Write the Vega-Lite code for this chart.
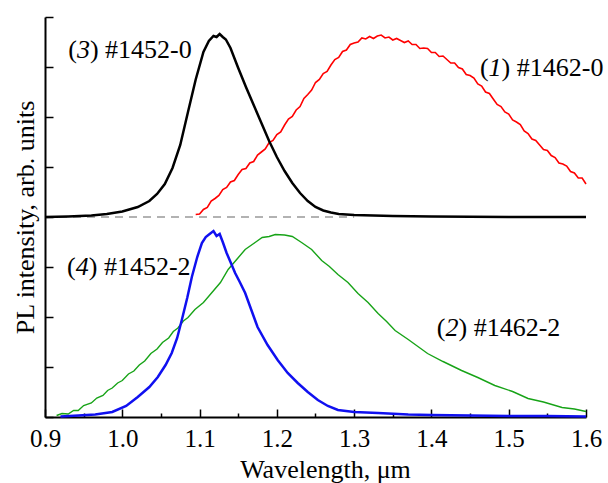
{
  "$schema": "https://vega.github.io/schema/vega-lite/v6.json",
  "width": 541,
  "height": 400,
  "autosize": {"type": "none"},
  "padding": {"left": 45, "top": 17, "right": 22, "bottom": 66},
  "config": {"font": "Liberation Serif", "view": {"stroke": null}},
  "datasets": {
    "base": [{"x": 0.9, "y": 4}, {"x": 1.3, "y": 4}],
    "labels": [
      {"x": 0.93, "y": 7.34, "n": "3", "r": ") #1452-0"},
      {"x": 1.4627, "y": 6.98, "n": "1", "r": ") #1462-0"},
      {"x": 0.9285, "y": 3.0, "n": "4", "r": ") #1452-2"},
      {"x": 1.407, "y": 1.78, "n": "2", "r": ") #1462-2"}
    ],
    "curves": [
      {"s": "3", "x": 0.9, "y": 4.0}, {"s": "3", "x": 0.93, "y": 4.01}, {"s": "3", "x": 0.96, "y": 4.03}, {"s": "3", "x": 0.98, "y": 4.06},
      {"s": "3", "x": 1.0, "y": 4.11}, {"s": "3", "x": 1.02, "y": 4.2}, {"s": "3", "x": 1.035, "y": 4.32}, {"s": "3", "x": 1.045, "y": 4.46},
      {"s": "3", "x": 1.055, "y": 4.66}, {"s": "3", "x": 1.065, "y": 4.98}, {"s": "3", "x": 1.075, "y": 5.44}, {"s": "3", "x": 1.085, "y": 6.1},
      {"s": "3", "x": 1.095, "y": 6.75}, {"s": "3", "x": 1.105, "y": 7.3}, {"s": "3", "x": 1.112, "y": 7.52}, {"s": "3", "x": 1.118, "y": 7.62},
      {"s": "3", "x": 1.122, "y": 7.6}, {"s": "3", "x": 1.126, "y": 7.66}, {"s": "3", "x": 1.13, "y": 7.6}, {"s": "3", "x": 1.134, "y": 7.55},
      {"s": "3", "x": 1.14, "y": 7.38}, {"s": "3", "x": 1.15, "y": 6.98}, {"s": "3", "x": 1.16, "y": 6.6}, {"s": "3", "x": 1.17, "y": 6.24},
      {"s": "3", "x": 1.18, "y": 5.88}, {"s": "3", "x": 1.19, "y": 5.52}, {"s": "3", "x": 1.2, "y": 5.2}, {"s": "3", "x": 1.21, "y": 4.92},
      {"s": "3", "x": 1.22, "y": 4.68}, {"s": "3", "x": 1.23, "y": 4.48}, {"s": "3", "x": 1.24, "y": 4.32}, {"s": "3", "x": 1.25, "y": 4.2},
      {"s": "3", "x": 1.26, "y": 4.13}, {"s": "3", "x": 1.27, "y": 4.09}, {"s": "3", "x": 1.28, "y": 4.06}, {"s": "3", "x": 1.3, "y": 4.04},
      {"s": "3", "x": 1.35, "y": 4.02}, {"s": "3", "x": 1.4, "y": 4.01}, {"s": "3", "x": 1.5, "y": 4.0}, {"s": "3", "x": 1.6, "y": 4.0},

      {"s": "1", "x": 1.095, "y": 4.05}, {"s": "1", "x": 1.1, "y": 4.06}, {"s": "1", "x": 1.105, "y": 4.15}, {"s": "1", "x": 1.11, "y": 4.19},
      {"s": "1", "x": 1.115, "y": 4.32}, {"s": "1", "x": 1.12, "y": 4.37}, {"s": "1", "x": 1.125, "y": 4.43}, {"s": "1", "x": 1.13, "y": 4.55},
      {"s": "1", "x": 1.135, "y": 4.59}, {"s": "1", "x": 1.14, "y": 4.7}, {"s": "1", "x": 1.145, "y": 4.73}, {"s": "1", "x": 1.15, "y": 4.85},
      {"s": "1", "x": 1.155, "y": 4.95}, {"s": "1", "x": 1.16, "y": 4.97}, {"s": "1", "x": 1.165, "y": 5.08}, {"s": "1", "x": 1.17, "y": 5.11},
      {"s": "1", "x": 1.175, "y": 5.24}, {"s": "1", "x": 1.18, "y": 5.3}, {"s": "1", "x": 1.185, "y": 5.36}, {"s": "1", "x": 1.19, "y": 5.49},
      {"s": "1", "x": 1.195, "y": 5.53}, {"s": "1", "x": 1.2, "y": 5.65}, {"s": "1", "x": 1.205, "y": 5.7}, {"s": "1", "x": 1.21, "y": 5.84},
      {"s": "1", "x": 1.215, "y": 5.96}, {"s": "1", "x": 1.22, "y": 6.01}, {"s": "1", "x": 1.225, "y": 6.14}, {"s": "1", "x": 1.23, "y": 6.21},
      {"s": "1", "x": 1.235, "y": 6.37}, {"s": "1", "x": 1.24, "y": 6.45}, {"s": "1", "x": 1.245, "y": 6.54}, {"s": "1", "x": 1.25, "y": 6.69},
      {"s": "1", "x": 1.255, "y": 6.75}, {"s": "1", "x": 1.26, "y": 6.87}, {"s": "1", "x": 1.265, "y": 6.91}, {"s": "1", "x": 1.27, "y": 7.04},
      {"s": "1", "x": 1.275, "y": 7.15}, {"s": "1", "x": 1.28, "y": 7.19}, {"s": "1", "x": 1.285, "y": 7.31}, {"s": "1", "x": 1.29, "y": 7.34},
      {"s": "1", "x": 1.295, "y": 7.45}, {"s": "1", "x": 1.3, "y": 7.48}, {"s": "1", "x": 1.305, "y": 7.5}, {"s": "1", "x": 1.31, "y": 7.58},
      {"s": "1", "x": 1.315, "y": 7.56}, {"s": "1", "x": 1.32, "y": 7.61}, {"s": "1", "x": 1.325, "y": 7.57}, {"s": "1", "x": 1.33, "y": 7.62},
      {"s": "1", "x": 1.335, "y": 7.64}, {"s": "1", "x": 1.34, "y": 7.58}, {"s": "1", "x": 1.345, "y": 7.6}, {"s": "1", "x": 1.35, "y": 7.54},
      {"s": "1", "x": 1.355, "y": 7.57}, {"s": "1", "x": 1.36, "y": 7.53}, {"s": "1", "x": 1.365, "y": 7.49}, {"s": "1", "x": 1.37, "y": 7.52},
      {"s": "1", "x": 1.375, "y": 7.45}, {"s": "1", "x": 1.38, "y": 7.45}, {"s": "1", "x": 1.385, "y": 7.37}, {"s": "1", "x": 1.39, "y": 7.38},
      {"s": "1", "x": 1.395, "y": 7.37}, {"s": "1", "x": 1.4, "y": 7.29}, {"s": "1", "x": 1.405, "y": 7.29}, {"s": "1", "x": 1.41, "y": 7.21},
      {"s": "1", "x": 1.415, "y": 7.22}, {"s": "1", "x": 1.42, "y": 7.15}, {"s": "1", "x": 1.425, "y": 7.08}, {"s": "1", "x": 1.43, "y": 7.08},
      {"s": "1", "x": 1.435, "y": 6.99}, {"s": "1", "x": 1.44, "y": 6.96}, {"s": "1", "x": 1.445, "y": 6.85}, {"s": "1", "x": 1.45, "y": 6.83},
      {"s": "1", "x": 1.455, "y": 6.78}, {"s": "1", "x": 1.46, "y": 6.66}, {"s": "1", "x": 1.465, "y": 6.62}, {"s": "1", "x": 1.47, "y": 6.5},
      {"s": "1", "x": 1.475, "y": 6.47}, {"s": "1", "x": 1.48, "y": 6.36}, {"s": "1", "x": 1.485, "y": 6.25}, {"s": "1", "x": 1.49, "y": 6.21},
      {"s": "1", "x": 1.495, "y": 6.1}, {"s": "1", "x": 1.5, "y": 6.06}, {"s": "1", "x": 1.505, "y": 5.94}, {"s": "1", "x": 1.51, "y": 5.9},
      {"s": "1", "x": 1.515, "y": 5.85}, {"s": "1", "x": 1.52, "y": 5.72}, {"s": "1", "x": 1.525, "y": 5.67}, {"s": "1", "x": 1.53, "y": 5.56},
      {"s": "1", "x": 1.535, "y": 5.53}, {"s": "1", "x": 1.54, "y": 5.44}, {"s": "1", "x": 1.545, "y": 5.35}, {"s": "1", "x": 1.55, "y": 5.33},
      {"s": "1", "x": 1.555, "y": 5.23}, {"s": "1", "x": 1.56, "y": 5.19}, {"s": "1", "x": 1.565, "y": 5.08}, {"s": "1", "x": 1.57, "y": 5.06},
      {"s": "1", "x": 1.575, "y": 5.02}, {"s": "1", "x": 1.58, "y": 4.91}, {"s": "1", "x": 1.585, "y": 4.88}, {"s": "1", "x": 1.59, "y": 4.78},
      {"s": "1", "x": 1.595, "y": 4.78}, {"s": "1", "x": 1.6, "y": 4.66},

      {"s": "2", "x": 0.915, "y": 0.03}, {"s": "2", "x": 0.922, "y": 0.07}, {"s": "2", "x": 0.93, "y": 0.06}, {"s": "2", "x": 0.937, "y": 0.13},
      {"s": "2", "x": 0.943, "y": 0.13}, {"s": "2", "x": 0.95, "y": 0.23}, {"s": "2", "x": 0.96, "y": 0.28}, {"s": "2", "x": 0.967, "y": 0.38},
      {"s": "2", "x": 0.975, "y": 0.43}, {"s": "2", "x": 0.981, "y": 0.53}, {"s": "2", "x": 0.987, "y": 0.58}, {"s": "2", "x": 0.994, "y": 0.68},
      {"s": "2", "x": 1.0, "y": 0.73}, {"s": "2", "x": 1.008, "y": 0.86}, {"s": "2", "x": 1.015, "y": 0.92}, {"s": "2", "x": 1.022, "y": 1.04},
      {"s": "2", "x": 1.029, "y": 1.12}, {"s": "2", "x": 1.037, "y": 1.27}, {"s": "2", "x": 1.045, "y": 1.36}, {"s": "2", "x": 1.052, "y": 1.49},
      {"s": "2", "x": 1.06, "y": 1.58}, {"s": "2", "x": 1.066, "y": 1.71}, {"s": "2", "x": 1.072, "y": 1.78}, {"s": "2", "x": 1.079, "y": 1.92},
      {"s": "2", "x": 1.085, "y": 1.99}, {"s": "2", "x": 1.094, "y": 2.15}, {"s": "2", "x": 1.105, "y": 2.29}, {"s": "2", "x": 1.116, "y": 2.49},
      {"s": "2", "x": 1.127, "y": 2.69}, {"s": "2", "x": 1.137, "y": 2.95}, {"s": "2", "x": 1.148, "y": 3.15}, {"s": "2", "x": 1.159, "y": 3.35},
      {"s": "2", "x": 1.17, "y": 3.47}, {"s": "2", "x": 1.181, "y": 3.59}, {"s": "2", "x": 1.19, "y": 3.61}, {"s": "2", "x": 1.198, "y": 3.65},
      {"s": "2", "x": 1.21, "y": 3.64}, {"s": "2", "x": 1.22, "y": 3.61}, {"s": "2", "x": 1.232, "y": 3.49}, {"s": "2", "x": 1.245, "y": 3.35},
      {"s": "2", "x": 1.258, "y": 3.13}, {"s": "2", "x": 1.268, "y": 3.01}, {"s": "2", "x": 1.279, "y": 2.85}, {"s": "2", "x": 1.292, "y": 2.69},
      {"s": "2", "x": 1.305, "y": 2.47}, {"s": "2", "x": 1.318, "y": 2.29}, {"s": "2", "x": 1.331, "y": 2.07}, {"s": "2", "x": 1.342, "y": 1.91},
      {"s": "2", "x": 1.353, "y": 1.73}, {"s": "2", "x": 1.37, "y": 1.55}, {"s": "2", "x": 1.395, "y": 1.27}, {"s": "2", "x": 1.415, "y": 1.11},
      {"s": "2", "x": 1.439, "y": 0.93}, {"s": "2", "x": 1.46, "y": 0.79}, {"s": "2", "x": 1.482, "y": 0.63}, {"s": "2", "x": 1.505, "y": 0.51},
      {"s": "2", "x": 1.525, "y": 0.37}, {"s": "2", "x": 1.545, "y": 0.3}, {"s": "2", "x": 1.569, "y": 0.19}, {"s": "2", "x": 1.585, "y": 0.16},
      {"s": "2", "x": 1.6, "y": 0.11},

      {"s": "4", "x": 0.92, "y": 0.01}, {"s": "4", "x": 0.943, "y": 0.03}, {"s": "4", "x": 0.965, "y": 0.05}, {"s": "4", "x": 0.987, "y": 0.1},
      {"s": "4", "x": 1.005, "y": 0.22}, {"s": "4", "x": 1.02, "y": 0.4}, {"s": "4", "x": 1.035, "y": 0.6}, {"s": "4", "x": 1.046, "y": 0.8},
      {"s": "4", "x": 1.056, "y": 1.04}, {"s": "4", "x": 1.064, "y": 1.28}, {"s": "4", "x": 1.071, "y": 1.58}, {"s": "4", "x": 1.077, "y": 1.94},
      {"s": "4", "x": 1.084, "y": 2.38}, {"s": "4", "x": 1.09, "y": 2.8}, {"s": "4", "x": 1.097, "y": 3.2}, {"s": "4", "x": 1.103, "y": 3.48},
      {"s": "4", "x": 1.108, "y": 3.6}, {"s": "4", "x": 1.113, "y": 3.66}, {"s": "4", "x": 1.118, "y": 3.72}, {"s": "4", "x": 1.122, "y": 3.62},
      {"s": "4", "x": 1.126, "y": 3.66}, {"s": "4", "x": 1.13, "y": 3.5}, {"s": "4", "x": 1.135, "y": 3.28}, {"s": "4", "x": 1.14, "y": 3.1},
      {"s": "4", "x": 1.146, "y": 2.88}, {"s": "4", "x": 1.152, "y": 2.7}, {"s": "4", "x": 1.159, "y": 2.48}, {"s": "4", "x": 1.167, "y": 2.14},
      {"s": "4", "x": 1.175, "y": 1.8}, {"s": "4", "x": 1.188, "y": 1.44}, {"s": "4", "x": 1.201, "y": 1.14}, {"s": "4", "x": 1.214, "y": 0.88},
      {"s": "4", "x": 1.227, "y": 0.68}, {"s": "4", "x": 1.24, "y": 0.5}, {"s": "4", "x": 1.253, "y": 0.34}, {"s": "4", "x": 1.266, "y": 0.22},
      {"s": "4", "x": 1.279, "y": 0.14}, {"s": "4", "x": 1.3, "y": 0.1}, {"s": "4", "x": 1.331, "y": 0.08}, {"s": "4", "x": 1.37, "y": 0.05},
      {"s": "4", "x": 1.4, "y": 0.04}, {"s": "4", "x": 1.45, "y": 0.03}, {"s": "4", "x": 1.5, "y": 0.02}, {"s": "4", "x": 1.55, "y": 0.02},
      {"s": "4", "x": 1.6, "y": 0.01}
    ]
  },
  "layer": [
    {
      "data": {"name": "base"},
      "mark": {"type": "line", "color": "#999999", "strokeDash": [8, 6], "strokeWidth": 1.5},
      "encoding": {
        "x": {
          "field": "x", "type": "quantitative",
          "scale": {"domain": [0.9, 1.6], "nice": false, "zero": false},
          "axis": {
            "orient": "bottom",
            "values": [0.9, 1.0, 1.1, 1.2, 1.3, 1.4, 1.5, 1.6],
            "format": ".1f",
            "tickSize": -8, "tickWidth": 1.5, "tickColor": "black",
            "domainColor": "black", "domainWidth": 2,
            "labelFontSize": 25, "labelColor": "black", "labelPadding": 17,
            "labelFlush": false, "labelOverlap": false, "labelBound": false,
            "grid": false,
            "title": "Wavelength, μm", "titleFontSize": 26, "titleFontWeight": "normal",
            "titleColor": "black", "titlePadding": 5, "titleX": 280
          }
        },
        "y": {
          "field": "y", "type": "quantitative",
          "scale": {"domain": [0, 8], "nice": false, "zero": false},
          "axis": {
            "values": [0, 1, 2, 3, 4, 5, 6, 7, 8],
            "labels": false,
            "tickSize": -8, "tickWidth": 1.5, "tickColor": "black",
            "domainColor": "black", "domainWidth": 2,
            "grid": false,
            "title": "PL intensity, arb. units", "titleFontSize": 26, "titleFontWeight": "normal",
            "titleColor": "black", "titlePadding": 6
          }
        }
      }
    },
    {
      "data": {"name": "curves"},
      "transform": [{"filter": "datum.s == '2'"}],
      "mark": {"type": "line", "color": "#17a317", "strokeWidth": 1.4},
      "encoding": {
        "x": {
          "field": "x", "type": "quantitative",
          "axis": {
            "orient": "bottom",
            "values": [0.95, 1.05, 1.15, 1.25, 1.35, 1.45, 1.55],
            "labels": false, "domain": false, "grid": false,
            "tickSize": -4, "tickWidth": 1.5, "tickColor": "black",
            "title": null
          }
        },
        "y": {"field": "y", "type": "quantitative"}
      }
    },
    {
      "data": {"name": "curves"},
      "transform": [{"filter": "datum.s == '4'"}],
      "mark": {"type": "line", "color": "#1010f0", "strokeWidth": 2.5},
      "encoding": {
        "x": {"field": "x", "type": "quantitative", "axis": null},
        "y": {"field": "y", "type": "quantitative"}
      }
    },
    {
      "data": {"name": "curves"},
      "transform": [{"filter": "datum.s == '1'"}],
      "mark": {"type": "line", "color": "#ff0000", "strokeWidth": 1.6},
      "encoding": {
        "x": {"field": "x", "type": "quantitative", "axis": null},
        "y": {"field": "y", "type": "quantitative"}
      }
    },
    {
      "data": {"name": "curves"},
      "transform": [{"filter": "datum.s == '3'"}],
      "mark": {"type": "line", "color": "#000000", "strokeWidth": 2.5},
      "encoding": {
        "x": {"field": "x", "type": "quantitative", "axis": null},
        "y": {"field": "y", "type": "quantitative"}
      }
    },
    {
      "data": {"name": "labels"},
      "mark": {"type": "text", "align": "left", "baseline": "middle", "fontSize": 26, "color": "black"},
      "encoding": {
        "x": {"field": "x", "type": "quantitative", "axis": null},
        "y": {"field": "y", "type": "quantitative"},
        "text": {"value": "("}
      }
    },
    {
      "data": {"name": "labels"},
      "mark": {"type": "text", "align": "left", "baseline": "middle", "fontSize": 26, "fontStyle": "italic", "color": "black", "dx": 8.7},
      "encoding": {
        "x": {"field": "x", "type": "quantitative", "axis": null},
        "y": {"field": "y", "type": "quantitative"},
        "text": {"field": "n"}
      }
    },
    {
      "data": {"name": "labels"},
      "mark": {"type": "text", "align": "left", "baseline": "middle", "fontSize": 26, "color": "black", "dx": 21.7},
      "encoding": {
        "x": {"field": "x", "type": "quantitative", "axis": null},
        "y": {"field": "y", "type": "quantitative"},
        "text": {"field": "r"}
      }
    }
  ],
  "resolve": {"axis": {"x": "independent"}}
}
